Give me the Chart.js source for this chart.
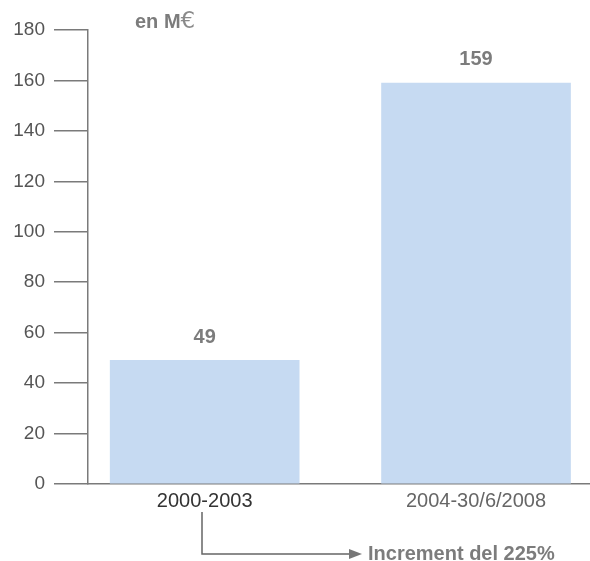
<!DOCTYPE html>
<html>
<head>
<meta charset="utf-8">
<script src="https://cdn.jsdelivr.net/npm/chart.js@4.4.1/dist/chart.umd.min.js"></script>
<style>
  html,body{margin:0;padding:0;background:#fff;}
  #wrap{width:590px;height:561px;}
</style>
</head>
<body>
<div id="wrap"><canvas id="barChart" width="590" height="561"></canvas></div>
<script>
const periods = ['2000-2003', '2004-30/6/2008'];
const amounts = [49, 159];
const yTicks = [0, 20, 40, 60, 80, 100, 120, 140, 160, 180];
const unitLabel = 'en M';
const unitSign = '€';
const noteText = 'Increment del 225%';

const axisGrey = '#7a7a7a';
const labelGrey = '#7c7c7c';

const valueLabels = {
  id: 'valueLabels',
  afterDatasetsDraw(chart) {
    const ctx = chart.ctx;
    const meta = chart.getDatasetMeta(0);
    ctx.save();
    ctx.font = 'bold 20px "Liberation Sans", Arial, sans-serif';
    ctx.fillStyle = labelGrey;
    ctx.textAlign = 'center';
    ctx.textBaseline = 'bottom';
    meta.data.forEach((bar, i) => {
      ctx.fillText(amounts[i], bar.x, bar.y - 13);
    });
    ctx.restore();
  }
};

const extras = {
  id: 'extras',
  afterDraw(chart) {
    const ctx = chart.ctx;
    const xs = chart.scales.x;
    ctx.save();
    // unit title
    ctx.font = 'bold 20px "Liberation Sans", Arial, sans-serif';
    ctx.fillStyle = labelGrey;
    ctx.textAlign = 'left';
    ctx.textBaseline = 'alphabetic';
    ctx.fillText(unitLabel, 135, 28);
    const w = ctx.measureText(unitLabel).width;
    ctx.font = '23px "DejaVu Sans", sans-serif';
    ctx.fillStyle = '#8a8a8a';
    ctx.fillText(unitSign, 135 + w, 28);
    // arrow from first category
    const x0 = Math.round(xs.getPixelForValue(0)) - 3;
    const yArrow = 554;
    ctx.strokeStyle = '#666';
    ctx.lineWidth = 1.5;
    ctx.beginPath();
    ctx.moveTo(x0, 512);
    ctx.lineTo(x0, yArrow);
    ctx.lineTo(350, yArrow);
    ctx.stroke();
    ctx.fillStyle = '#777';
    ctx.beginPath();
    ctx.moveTo(349, yArrow - 5);
    ctx.lineTo(362, yArrow);
    ctx.lineTo(349, yArrow + 5);
    ctx.closePath();
    ctx.fill();
    ctx.font = 'bold 20px "Liberation Sans", Arial, sans-serif';
    ctx.fillStyle = labelGrey;
    ctx.textBaseline = 'middle';
    ctx.fillText(noteText, 368, yArrow);
    ctx.restore();
  }
};

const ctx = document.getElementById('barChart');

new Chart(ctx, {
  type: 'bar',
  data: {
    datasets: [{
      data: amounts.map((v, i) => ({ x: i, y: v })),
      backgroundColor: '#c6daf2',
      borderWidth: 0,
      barThickness: 189
    }]
  },
  options: {
    responsive: false,
    animation: false,
    layout: { padding: { top: 30, left: 0, right: 0, bottom: 0 } },
    plugins: {
      legend: { display: false },
      tooltip: { enabled: false }
    },
    scales: {
      x: {
        type: 'linear',
        offset: false,
        min: -0.43,
        max: 1.42,
        grid: { display: false, drawTicks: false, offset: false },
        border: { display: true, color: axisGrey, width: 1.5 },
        afterBuildTicks: (scale) => {
          scale.ticks = periods.map((p, i) => ({ value: i }));
        },
        afterFit: (scale) => { scale.height = 77; },
        ticks: {
          padding: 5,
          autoSkip: false,
          maxRotation: 0,
          callback: (v) => periods[v],
          color: ['#333', '#666'],
          font: { family: '"Liberation Sans", Arial, sans-serif', size: 20 }
        }
      },
      y: {
        min: 0,
        max: 180,
        afterBuildTicks: (scale) => {
          scale.ticks = yTicks.map(v => ({ value: v }));
        },
        afterFit: (scale) => { scale.width = 88; },
        grid: {
          drawOnChartArea: false,
          drawTicks: true,
          tickLength: 34,
          color: axisGrey,
          lineWidth: 1.5
        },
        border: { display: true, color: axisGrey, width: 1.5 },
        ticks: {
          padding: 9,
          color: '#555',
          font: { family: '"Liberation Sans", Arial, sans-serif', size: 19 }
        }
      }
    }
  },
  plugins: [valueLabels, extras]
});
</script>
</body>
</html>
